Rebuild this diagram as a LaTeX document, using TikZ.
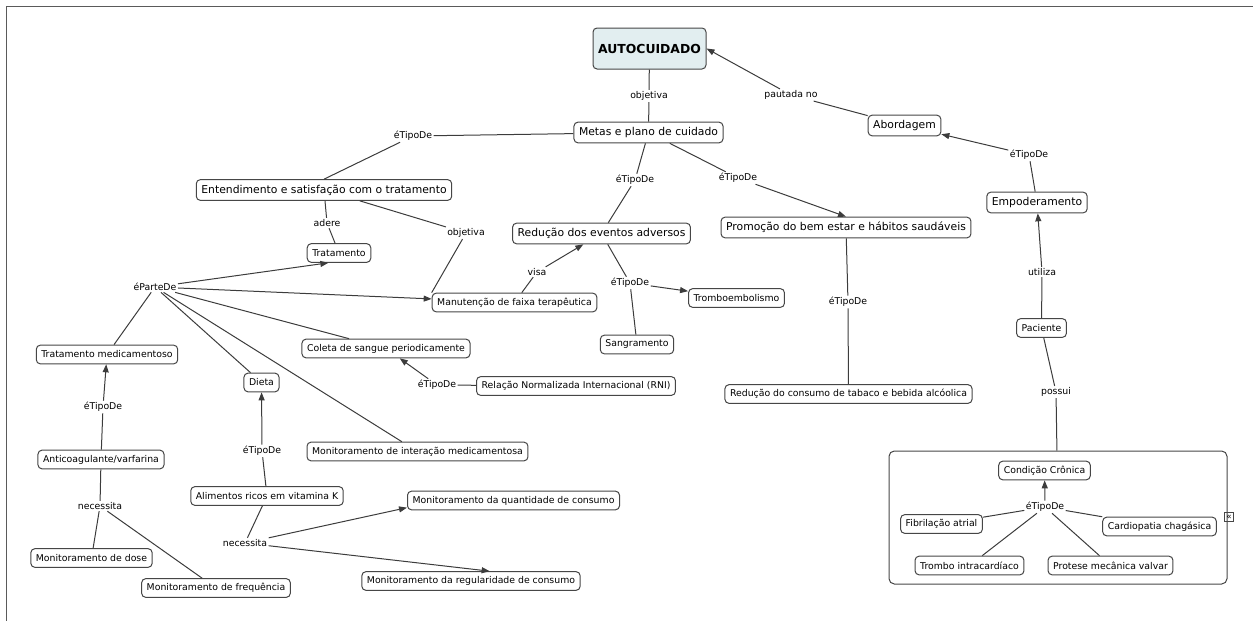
\documentclass[tikz,border=0pt]{standalone}
\usepackage{fontspec}
\setmainfont{DejaVu Sans}
\usetikzlibrary{arrows.meta}

\tikzset{every picture/.style={line width=0.75pt}}
\tikzset{
  concept/.style={draw={rgb, 255:red, 70; green, 70; blue, 70 }, rounded corners=3pt, fill=white,
    inner xsep=3.8pt, inner ysep=1pt, minimum height=15.5pt, font=\fontsize{8.1}{9.6}\selectfont},
  subconcept/.style={concept, minimum height=14pt, font=\fontsize{7}{8.4}\selectfont},
  linkphrase/.style={fill=white, inner sep=0.8pt, font=\fontsize{7}{8.4}\selectfont},
  link/.style={draw={rgb, 255:red, 60; green, 60; blue, 60 }},
  linkarrow/.style={link, -{Triangle[length=6pt,width=4.5pt]}},
}

\begin{document}
\begin{tikzpicture}[x=0.75pt,y=0.75pt,yscale=-1,xscale=1]
\useasboundingbox (0,0) rectangle (1253,621);

%Frame
\draw [color={rgb, 255:red, 90; green, 90; blue, 90 }] (6,621) -- (6,6) -- (1253,6) ;

% Group box
\draw (1058,517.5) node [draw={rgb, 255:red, 70; green, 70; blue, 70 }, rounded corners=4pt, minimum width=253.5pt, minimum height=99.75pt] (grupo) {};
\draw (1229,517) node [draw={rgb, 255:red, 70; green, 70; blue, 70 }, line width=0.5pt, inner sep=0pt, minimum size=6.5pt, font=\fontsize{6.5}{6.5}\selectfont] (recolher) {\raisebox{0.3pt}{«}};

% Text Node
\draw (649.5,48.5) node [concept, fill={rgb, 255:red, 226; green, 238; blue, 240 }, minimum width=84.75pt, minimum height=30.75pt, font=\fontsize{9.3}{11}\selectfont\bfseries] (auto) {AUTOCUIDADO};
% Text Node
\draw (648.5,132.5) node [concept] (metas) {Metas e plano de cuidado};
% Text Node
\draw (904.5,125.5) node [concept] (abord) {Abordagem};
% Text Node
\draw (1037,202.5) node [concept] (empod) {Empoderamento};
% Text Node
\draw (324,190) node [concept] (entend) {Entendimento e satisfação com o tratamento};
% Text Node
\draw (601.5,233.5) node [concept] (reducao) {Redução dos eventos adversos};
% Text Node
\draw (846,227.5) node [concept] (promo) {Promoção do bem estar e hábitos saudáveis};
% Text Node
\draw (339,253) node [subconcept] (trat) {Tratamento};
% Text Node
\draw (514.5,302.5) node [subconcept] (manut) {Manutenção de faixa terapêutica};
% Text Node
\draw (736.5,298) node [subconcept] (trombo) {Tromboembolismo};
% Text Node
\draw (637,344.5) node [subconcept] (sangr) {Sangramento};
% Text Node
\draw (386,348.5) node [subconcept] (coleta) {Coleta de sangue periodicamente};
% Text Node
\draw (576,386) node [subconcept] (rni) {Relação Normalizada Internacional (RNI)};
% Text Node
\draw (848.5,394) node [subconcept] (tabaco) {Redução do consumo de tabaco e bebida alcóolica};
% Text Node
\draw (1041.5,328) node [subconcept] (paciente) {Paciente};
% Text Node
\draw (107,354.5) node [subconcept] (tratmed) {Tratamento medicamentoso};
% Text Node
\draw (261.5,382.5) node [subconcept] (dieta) {Dieta};
% Text Node
\draw (417.5,451.5) node [subconcept] (interacao) {Monitoramento de interação medicamentosa};
% Text Node
\draw (101,459.5) node [subconcept] (anticoag) {Anticoagulante/varfarina};
% Text Node
\draw (267,496) node [subconcept] (alimentos) {Alimentos ricos em vitamina K};
% Text Node
\draw (513.5,500.5) node [subconcept] (quant) {Monitoramento da quantidade de consumo};
% Text Node
\draw (91.5,558) node [subconcept] (dose) {Monitoramento de dose};
% Text Node
\draw (216,588) node [subconcept] (freq) {Monitoramento de frequência};
% Text Node
\draw (471,581) node [subconcept] (regul) {Monitoramento da regularidade de consumo};
% Text Node
\draw (1044.5,470.5) node [subconcept] (condicao) {Condição Crônica};
% Text Node
\draw (941.5,524) node [subconcept] (fibril) {Fibrilação atrial};
% Text Node
\draw (1159.5,526.5) node [subconcept] (chagas) {Cardiopatia chagásica};
% Text Node
\draw (969.5,565.5) node [subconcept] (trombint) {Trombo intracardíaco};
% Text Node
\draw (1110.5,565.5) node [subconcept] (protese) {Protese mecânica valvar};

% Linking phrases
\draw (649,96) node [linkphrase] (lobj1) {objetiva};
\draw (791,95) node [linkphrase] (lpaut) {pautada no};
\draw (413,136) node [linkphrase] (ltipo1) {éTipoDe};
\draw (635,180) node [linkphrase] (ltipo2) {éTipoDe};
\draw (738,178) node [linkphrase] (ltipo3) {éTipoDe};
\draw (1029,155) node [linkphrase] (ltipo4) {éTipoDe};
\draw (327,223) node [linkphrase] (ladere) {adere};
\draw (466,233) node [linkphrase] (lobj2) {objetiva};
\draw (537,272) node [linkphrase] (lvisa) {visa};
\draw (630,283) node [linkphrase] (ltipo5) {éTipoDe};
\draw (1042,272) node [linkphrase] (lutil) {utiliza};
\draw (848,302) node [linkphrase] (ltipo6) {éTipoDe};
\draw (155,287) node [linkphrase] (lparte) {éParteDe};
\draw (437,385) node [linkphrase] (ltipo7) {éTipoDe};
\draw (1056,392) node [linkphrase] (lpossui) {possui};
\draw (103,407) node [linkphrase] (ltipo8) {éTipoDe};
\draw (262,451) node [linkphrase] (ltipo9) {éTipoDe};
\draw (100,506) node [linkphrase] (lnec1) {necessita};
\draw (245,543) node [linkphrase] (lnec2) {necessita};
\draw (1045,507) node [linkphrase] (ltipo10) {éTipoDe};

%Straight Lines
\draw [link] (auto) -- (lobj1) ;
\draw [link] (lobj1) -- (metas) ;
\draw [link] (abord) -- (lpaut) ;
\draw [linkarrow] (lpaut) -- (auto.east) ;
\draw [link] (empod) -- (ltipo4) ;
\draw [linkarrow] (ltipo4) -- (abord) ;
\draw [link] (paciente) -- (lutil) ;
\draw [linkarrow] (lutil) -- (empod) ;
\draw [link] (paciente) -- (lpossui) ;
\draw [link] (lpossui) -- (grupo) ;

%Straight Lines
\draw [link] (metas) -- (ltipo1) ;
\draw [link] (ltipo1) -- (entend.north) ;
\draw [link] (metas) -- (ltipo2) ;
\draw [link] (ltipo2) -- (reducao) ;
\draw [link] (metas) -- (ltipo3) ;
\draw [linkarrow] (ltipo3) -- (promo.north) ;
\draw [link] (promo) -- (ltipo6) ;
\draw [link] (ltipo6) -- (tabaco) ;

%Straight Lines
\draw [link] (entend) -- (ladere) ;
\draw [link] (ladere) -- (trat) ;
\draw [link] (entend) -- (lobj2) ;
\draw [link] (lobj2) -- (manut.north west) ;
\draw [link] (manut) -- (lvisa) ;
\draw [linkarrow] (lvisa) -- (reducao) ;
\draw [link] (reducao) -- (ltipo5) ;
\draw [linkarrow] (ltipo5) -- (trombo) ;
\draw [link] (ltipo5) -- (sangr) ;

%Straight Lines
\draw [linkarrow] (lparte) -- ([xshift=-8pt]trat.south) ;
\draw [linkarrow] (lparte) -- (manut) ;
\draw [link] (tratmed) -- (lparte) ;
\draw [link] (dieta) -- (lparte) ;
\draw [link] (coleta) -- (lparte) ;
\draw [link] (interacao) -- (lparte) ;
\draw [link] (rni) -- (ltipo7) ;
\draw [linkarrow] (ltipo7) -- (coleta) ;

%Straight Lines
\draw [link] (anticoag) -- (ltipo8) ;
\draw [linkarrow] (ltipo8) -- (tratmed) ;
\draw [link] (anticoag) -- (lnec1) ;
\draw [link] (lnec1) -- (dose) ;
\draw [link] (lnec1) -- (freq) ;
\draw [link] (alimentos) -- (ltipo9) ;
\draw [linkarrow] (ltipo9) -- (dieta) ;
\draw [link] (alimentos) -- (lnec2) ;
\draw [linkarrow] (lnec2) -- ([yshift=-2pt]quant.south west) ;
\draw [linkarrow] (lnec2) -- ([xshift=14pt]regul.north) ;

%Straight Lines
\draw [link] (fibril) -- (ltipo10) ;
\draw [link] (chagas) -- (ltipo10) ;
\draw [link] (trombint) -- (ltipo10) ;
\draw [link] (protese) -- (ltipo10) ;
\draw [linkarrow] (ltipo10) -- (condicao) ;

\end{tikzpicture}
\end{document}
